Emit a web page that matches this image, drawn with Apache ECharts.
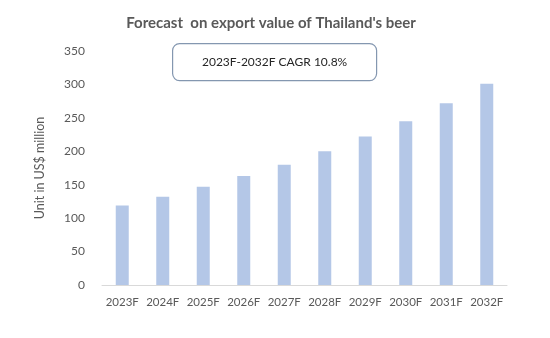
<!DOCTYPE html>
<html>
<head>
<meta charset="utf-8">
<script src="https://cdn.jsdelivr.net/npm/echarts@6/dist/echarts.min.js"></script>
<style>
  html, body { margin: 0; padding: 0; background: #fff; }
  #chart { width: 550px; height: 338px; }
</style>
</head>
<body>
<div id="chart"></div>
<script>
// Forecast years and export values (US$ million)
var categories = ['2023F', '2024F', '2025F', '2026F', '2027F', '2028F', '2029F', '2030F', '2031F', '2032F'];
var exportValues = [119, 132, 147, 163, 180, 200, 222, 245, 272, 301];
var titleText = "Forecast  on export value of Thailand's beer";
var cagrText = '2023F-2032F CAGR 10.8%';
var axisName = 'Unit in US$ million';

var font = 'Lato, "Open Sans", sans-serif';
var chart = echarts.init(document.getElementById('chart'), null, { renderer: 'canvas' });

chart.setOption({
  backgroundColor: '#ffffff',
  animation: false,
  title: {
    text: titleText,
    left: 266,
    textAlign: 'center',
    top: 11,
    textStyle: { fontFamily: font, fontSize: 15, fontWeight: 'bold', color: '#595959' }
  },
  grid: { left: 102, right: 43, top: 51, bottom: 53 },
  xAxis: {
    type: 'category',
    data: categories,
    axisLine: { show: true, lineStyle: { color: '#d9d9d9', width: 1 } },
    axisTick: { show: false },
    axisLabel: { interval: 0, fontFamily: font, fontSize: 11.5, color: '#595959', margin: 11 }
  },
  yAxis: {
    type: 'value',
    min: 0,
    max: 350,
    interval: 50,
    name: axisName,
    nameLocation: 'middle',
    nameGap: 56,
    nameTextStyle: { fontFamily: font, fontSize: 12.5, color: '#595959' },
    axisLine: { show: false },
    axisTick: { show: false },
    splitLine: { show: false },
    axisLabel: { fontFamily: font, fontSize: 12, color: '#595959', margin: 17 }
  },
  series: [{
    type: 'bar',
    data: exportValues,
    barWidth: 13,
    itemStyle: { color: '#b4c7e7' }
  }],
  graphic: [{
    type: 'group',
    left: 172,
    top: 43,
    children: [{
      type: 'rect',
      shape: { x: 0, y: 0, width: 204, height: 37, r: 7 },
      style: { fill: '#ffffff', stroke: '#8497b0', lineWidth: 1.2 }
    }, {
      type: 'text',
      x: 102,
      y: 18.5,
      style: {
        text: cagrText,
        align: 'center',
        verticalAlign: 'middle',
        font: '12px ' + font,
        fill: '#262626'
      }
    }]
  }]
});
</script>
</body>
</html>
